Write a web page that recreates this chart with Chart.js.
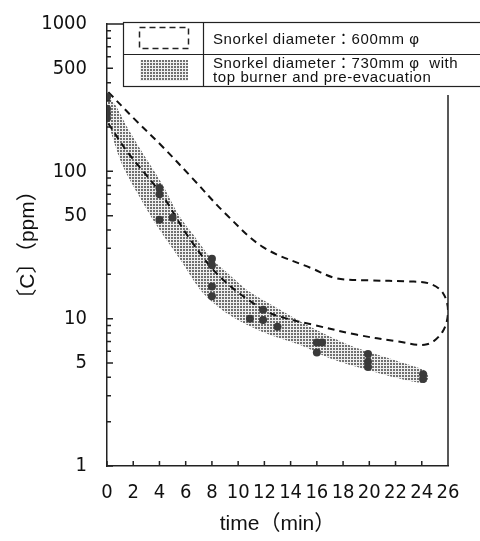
<!DOCTYPE html>
<html>
<head>
<meta charset="utf-8">
<script src="https://cdn.jsdelivr.net/npm/chart.js@4.4.1/dist/chart.umd.min.js"></script>
<style>
  html, body { margin: 0; background: #fff; }
  #wrap { width: 480px; height: 541px; position: relative; }
</style>
</head>
<body>
<div id="wrap"><canvas id="chart"></canvas></div>
<script>
// axis ticks
const xTickValues = [0, 2, 4, 6, 8, 10, 12, 14, 16, 18, 20, 22, 24, 26];
const yTickLabels = [1, 5, 10, 50, 100, 500, 1000];

// 730mm band (top burner + pre-evacuation): upper and lower edges, left -> right
const bandUpperX = [0, 0.6, 1.6, 2.7, 4.2, 5.5, 6.5, 7.9, 9.3, 10.7, 13.2, 15.5, 18.5, 22.3, 24.1, 24.5];
const bandUpperY = [320, 285, 195, 134, 82, 50, 38, 26, 20, 15.6, 11.5, 8.8, 6.6, 5.1, 4.5, 4.1];
const bandLowerX = [0, 1.1, 2.4, 3.7, 5.6, 7.3, 9.4, 11.9, 14.6, 17.2, 21.0, 23.6, 24.3];
const bandLowerY = [225, 114, 69, 44, 25, 15, 10.5, 8.1, 6.7, 5.3, 4.2, 3.7, 3.7];

// 600mm region (dashed outline), clockwise from top-left
const loopX = [0.1, 2.1, 4.2, 6.5, 9.0, 11.9, 15.7, 17.5, 20, 23, 24.6, 25.6, 26, 25.6, 24.4, 22.2, 19, 15.7, 13.4, 11.9, 8.6, 6.2, 4.2, 1.6, 0.1];
const loopY = [345, 226, 148, 90, 52, 30.6, 21.8, 18.8, 18.2, 17.9, 17.3, 15, 11.3, 8.2, 6.7, 7.0, 7.8, 9.1, 10.2, 11.5, 19.3, 36, 69, 134, 211];

// measured points
const dotX = [0, 0, 0, 0, 4, 4, 4, 5, 8, 8, 8, 8, 10.9, 11.9, 11.9, 13, 16, 16.4, 16, 19.9, 19.9, 19.9, 24.1, 24.1];
const dotY = [320, 266, 247, 229, 77, 70, 47, 48.5, 25.5, 23, 16.5, 14.2, 10, 11.5, 9.8, 8.8, 6.9, 6.9, 5.9, 5.75, 5.1, 4.7, 4.2, 3.9];

const legendLabels = ['Snorkel diameter：600mm φ', 'Snorkel diameter：730mm φ  with', 'top burner and pre-evacuation'];

const zip = (xs, ys) => xs.map((x, i) => ({ x, y: ys[i] }));

function stipple() {
  const c = document.createElement('canvas');
  c.width = 3; c.height = 3;
  const g = c.getContext('2d');
  g.fillStyle = '#f0f0f0'; g.fillRect(0, 0, 3, 3);
  g.fillStyle = '#707070'; g.fillRect(0, 0, 2, 2);
  return g.createPattern(c, 'repeat');
}
const dots = stipple();

const tickFont = { family: '"DejaVu Sans Condensed", "Liberation Sans", sans-serif', size: 20 };
const titleFont = { family: '"Liberation Sans", "Noto Sans CJK JP", sans-serif', size: 21 };

const frame = {
  id: 'frame',
  afterDraw(chart) {
    const { ctx, chartArea: a, scales: { x, y } } = chart;
    ctx.save();
    ctx.strokeStyle = '#222';
    ctx.lineWidth = 1.5;
    ctx.beginPath();
    ctx.moveTo(a.left, a.top); ctx.lineTo(a.right, a.top); ctx.lineTo(a.right, a.top + 4);
    ctx.moveTo(a.right, 95); ctx.lineTo(a.right, a.bottom);
    y.ticks.forEach(t => {
      const py = y.getPixelForValue(t.value);
      ctx.moveTo(a.left, py); ctx.lineTo(a.left + (t.label ? 6 : 4), py);
    });
    x.ticks.forEach(t => {
      const px = x.getPixelForValue(t.value);
      ctx.moveTo(px, a.bottom); ctx.lineTo(px, a.bottom - 5);
    });
    ctx.stroke();

    // legend table
    ctx.fillStyle = '#fff';
    ctx.fillRect(123, 22, 360, 64);
    ctx.lineWidth = 1.2;
    ctx.strokeRect(123.5, 22.5, 360, 64);
    ctx.beginPath();
    ctx.moveTo(123, 54.5); ctx.lineTo(480, 54.5);
    ctx.moveTo(203.5, 22); ctx.lineTo(203.5, 86);
    ctx.stroke();
    ctx.setLineDash([6, 4]);
    ctx.lineWidth = 1.5;
    ctx.strokeRect(139.5, 27.5, 49, 21);
    ctx.setLineDash([]);
    ctx.fillStyle = dots;
    ctx.fillRect(140, 60, 48, 21);
    ctx.fillStyle = '#111';
    ctx.font = '15px "Liberation Sans", "Noto Sans CJK JP", sans-serif';
    ctx.letterSpacing = '0.6px';
    ctx.textBaseline = 'alphabetic';
    ctx.fillText(legendLabels[0], 213, 44);
    ctx.fillText(legendLabels[1], 213, 68);
    ctx.fillText(legendLabels[2], 213, 82);
    ctx.restore();
  }
};

new Chart(document.getElementById('chart'), {
  data: {
    datasets: [
      { type: 'scatter', data: zip(dotX, dotY), pointRadius: 4, pointHoverRadius: 4,
        backgroundColor: '#3a3a3a', borderWidth: 0 },
      { type: 'line', data: zip(loopX, loopY), borderColor: '#111', borderWidth: 2,
        borderDash: [7, 5], pointRadius: 0, tension: 0.35, fill: false },
      { type: 'line', data: zip(bandUpperX, bandUpperY).concat(zip(bandLowerX, bandLowerY).reverse()),
        borderWidth: 0, pointRadius: 0, tension: 0.3, fill: 'shape', backgroundColor: dots }
    ]
  },
  options: {
    responsive: true,
    maintainAspectRatio: false,
    animation: false,
    layout: { padding: { top: 16, right: 32, left: 0, bottom: 0 } },
    plugins: { legend: { display: false }, tooltip: { enabled: false } },
    scales: {
      x: {
        type: 'linear', min: 0, max: 26,
        afterBuildTicks: s => { s.ticks = xTickValues.map(v => ({ value: v })); },
        afterFit: s => { s.height = 75; },
        grid: { display: false },
        border: { color: '#222', width: 1.5 },
        ticks: { autoSkip: false, maxRotation: 0, padding: 7, color: '#111', font: tickFont },
        title: { display: true, text: 'time（min）', color: '#111', font: titleFont, padding: { top: 4 } }
      },
      y: {
        type: 'logarithmic', min: 1, max: 1000,
        afterBuildTicks: s => {
          const t = [];
          [1, 10, 100].forEach(d => { for (let k = 1; k < 10; k++) t.push({ value: k * d }); });
          t.push({ value: 1000 });
          s.ticks = t;
        },
        afterFit: s => { s.width = 107; },
        grid: { display: false },
        border: { color: '#222', width: 1.5 },
        ticks: { autoSkip: false, padding: 12, color: '#111', font: tickFont,
          callback: v => yTickLabels.includes(v) ? String(v) : '' },
        title: { display: true, text: '〔C〕（ppm）', color: '#111', font: titleFont, padding: { top: 16 } }
      }
    }
  },
  plugins: [frame]
});
</script>
</body>
</html>
